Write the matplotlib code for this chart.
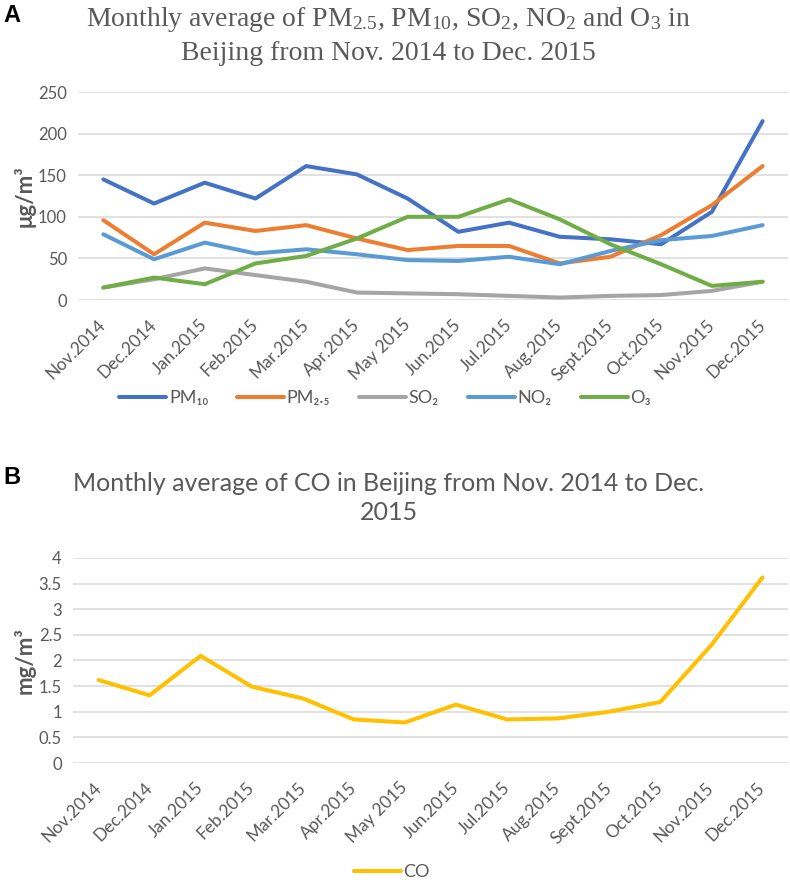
import matplotlib
matplotlib.use('Agg')
import matplotlib.pyplot as plt

plt.rcParams['mathtext.fontset'] = 'custom'
plt.rcParams['mathtext.rm'] = 'Liberation Serif'
plt.rcParams['mathtext.it'] = 'Liberation Serif:italic'

# monthly averages
months = ['Nov.2014', 'Dec.2014', 'Jan.2015', 'Feb.2015', 'Mar.2015', 'Apr.2015', 'May 2015',
          'Jun.2015', 'Jul.2015', 'Aug.2015', 'Sept.2015', 'Oct.2015', 'Nov.2015', 'Dec.2015']
pm10 = [145, 116, 141, 122, 161, 151, 122, 82, 93, 76, 73, 67, 106, 215]
pm25 = [96, 55, 93, 83, 90, 74, 60, 65, 65, 44, 52, 78, 114, 161]
so2 = [15, 25, 38, 30, 22, 9, 8, 7, 5, 3, 5, 6, 11, 22]
no2 = [79, 49, 69, 56, 61, 55, 48, 47, 52, 43, 59, 72, 77, 90]
o3 = [15, 27, 19, 44, 53, 74, 100, 100, 121, 97, 67, 43, 17, 22]
co = [1.62, 1.32, 2.09, 1.49, 1.26, 0.85, 0.79, 1.14, 0.85, 0.87, 1.0, 1.19, 2.30, 3.62]

gas_labels = ['PM\u2081\u2080', 'PM\u2082.\u2085', 'SO\u2082', 'NO\u2082', 'O\u2083']
gas_colors = ['#4472C4', '#ED7D31', '#A5A5A5', '#5B9BD5', '#70AD47']

grey = '#595959'
sans = ['Lato', 'DejaVu Sans']

fig = plt.figure(figsize=(7.9, 8.83), dpi=100)
ax1 = fig.add_axes([0.0987, 0.6602, 0.8987, 0.2356])
ax2 = fig.add_axes([0.0924, 0.1359, 0.905, 0.2322])

x = list(range(len(months)))


def style(ax, ymax, step, fmt):
    ax.set_xlim(-0.5, len(months) - 0.5)
    ax.set_ylim(0, ymax)
    ticks = [i * step for i in range(int(round(ymax / step)) + 1)]
    ax.set_yticks(ticks)
    ax.set_yticklabels([fmt(t) for t in ticks], family=sans, fontsize=12, color=grey)
    ax.set_xticks(x)
    ax.set_xticklabels(months, rotation=45, ha='right', va='center', rotation_mode='anchor',
                       family=sans, fontsize=12.5, color=grey)
    ax.tick_params(length=0, axis='x', pad=16)
    ax.tick_params(length=0, axis='y', pad=8)
    for s in ax.spines.values():
        s.set_visible(False)
    ax.grid(axis='y', color='#D9D9D9', lw=1.1)
    ax.set_axisbelow(True)


for vals, lab, c in zip([pm10, pm25, so2, no2, o3], gas_labels, gas_colors):
    ax1.plot(x, vals, color=c, lw=2.9, label=lab, solid_capstyle='round')
style(ax1, 250, 50, lambda t: '%d' % t)
ax1.set_ylabel('\u03bcg/m\u00b3', family=sans, fontsize=16, fontweight='bold', color=grey, labelpad=2)
ax1.legend(loc='center', bbox_to_anchor=(385 / 790, 1 - 398 / 883), bbox_transform=fig.transFigure,
           ncol=5, frameon=False, prop={'family': sans, 'size': 13}, labelcolor=grey,
           handlelength=2.6, handletextpad=0.15, columnspacing=1.6)

ax2.plot(x, co, color='#FFC000', lw=2.9, label='CO', solid_capstyle='round')
style(ax2, 4, 0.5, lambda t: '%g' % t)
ax2.set_ylabel('mg/m\u00b3', family=sans, fontsize=16, fontweight='bold', color=grey, labelpad=2)
ax2.legend(loc='center', bbox_to_anchor=(392 / 790, 1 - 872 / 883), bbox_transform=fig.transFigure,
           frameon=False, prop={'family': sans, 'size': 13}, labelcolor=grey,
           handlelength=2.6, handletextpad=0.15)

fig.text(388 / 790, 1 - 20 / 883, 'Monthly average of PM$_{2.5}$, PM$_{10}$, SO$_{2}$, NO$_{2}$ and O$_{3}$ in',
         ha='center', va='center', family='Liberation Serif', fontsize=20, color=grey)
fig.text(388 / 790, 1 - 53 / 883, 'Beijing from Nov. 2014 to Dec. 2015',
         ha='center', va='center', family='Liberation Serif', fontsize=20, color=grey)
fig.text(389 / 790, 1 - 472 / 883, 'Monthly average of CO in Beijing from Nov. 2014 to Dec.\n2015',
         ha='center', va='top', family=sans, fontsize=18, color=grey, linespacing=1.3,
         transform=fig.transFigure)
fig.text(12 / 790, 1 - 15 / 883, 'A', ha='center', va='center', fontsize=17, fontweight='bold',
         family='Liberation Sans')
fig.text(12 / 790, 1 - 477 / 883, 'B', ha='center', va='center', fontsize=17, fontweight='bold',
         family='Liberation Sans')

fig.savefig('out.png', dpi=100)
